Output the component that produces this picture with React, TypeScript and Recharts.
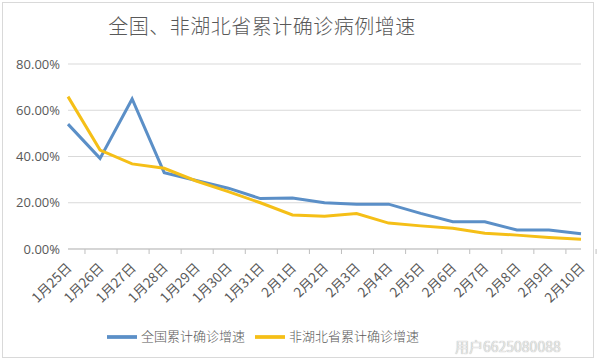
import { LineChart, Line, XAxis, YAxis, CartesianGrid, Legend } from 'recharts';

const dates = [
  '1月25日', '1月26日', '1月27日', '1月28日', '1月29日', '1月30日', '1月31日', '2月1日', '2月2日',
  '2月3日', '2月4日', '2月5日', '2月6日', '2月7日', '2月8日', '2月9日', '2月10日',
];
// 全国累计确诊增速 (%)
const national = [54.0, 39.2, 64.9, 33.0, 29.6, 26.3, 21.8, 22.0, 20.0, 19.4, 19.4, 15.4, 11.8, 11.8, 8.2, 8.2, 6.6];
// 非湖北省累计确诊增速 (%)
const nonHubei = [65.9, 42.8, 36.8, 34.9, 29.4, 24.8, 20.0, 14.7, 14.2, 15.3, 11.2, 10.0, 9.0, 6.8, 6.0, 5.0, 4.2];
const yTicks = [0, 20, 40, 60, 80];

const data = dates.map((d, i) => ({ date: d, national: national[i], nonHubei: nonHubei[i] }));

const BAND = (581 - 68) / dates.length;

const XTick = ({ x, y, payload, index }: any) => {
  const last = index === dates.length - 1;
  const tx = x + 2;
  const ty = y + 9;
  return (
    <g>
      <line x1={x - BAND / 2} y1={y - 8} x2={x - BAND / 2} y2={y - 3} stroke="#bfbfbf" />
      {last && <line x1={x + BAND / 2} y1={y - 8} x2={x + BAND / 2} y2={y - 3} stroke="#bfbfbf" />}
      <text
        x={tx}
        y={ty}
        textAnchor="end"
        transform={`rotate(-45, ${tx}, ${ty})`}
        fontSize={13.5}
        fill="#595959"
        fontFamily="'Noto Sans CJK SC', sans-serif"
        dominantBaseline="middle"
      >
        {payload.value}
      </text>
    </g>
  );
};

const App = () => {
  return (
    <div
      style={{
        position: 'absolute',
        left: 0,
        top: 0,
        width: 600,
        height: 361,
        background: '#fff',
        fontFamily: "'Noto Sans CJK SC', sans-serif",
      }}
    >
      <div
        style={{
          position: 'absolute',
          left: 2,
          top: 2,
          width: 592,
          height: 356,
          border: '1px solid #d9d9d9',
          boxSizing: 'border-box',
        }}
      />
      <div
        style={{
          position: 'absolute',
          top: 11,
          left: 0,
          width: 524,
          textAlign: 'center',
          fontSize: 20,
          fontWeight: 300,
          color: '#595959',
          letterSpacing: 0.5,
        }}
      >
        全国、非湖北省累计确诊病例增速
      </div>
      <LineChart width={600} height={361} data={data} margin={{ top: 64, right: 19, left: 8, bottom: 22 }}>
        <CartesianGrid vertical={false} stroke="#d9d9d9" />
        <XAxis
          dataKey="date"
          interval={0}
          height={60}
          axisLine={{ stroke: '#bfbfbf' }}
          tickLine={false}
          tick={<XTick />}
        />
        <YAxis
          width={60}
          domain={[0, 80]}
          ticks={yTicks}
          axisLine={false}
          tickLine={false}
          tickFormatter={(v: number) => `${v.toFixed(2)}%`}
          tick={{ fontSize: 13, fill: '#595959', fontFamily: "'Open Sans', sans-serif" }}
        />
        <Legend
          verticalAlign="bottom"
          iconType="plainline"
          iconSize={30}
          wrapperStyle={{ position: 'absolute', top: 322, left: 6, width: 524, bottom: 'auto', fontSize: 13 }}
          formatter={(v: string) => <span style={{ color: '#595959', fontWeight: 300 }}>{v}</span>}
        />
        <Line
          name="全国累计确诊增速"
          dataKey="national"
          stroke="#5b8fc7"
          strokeWidth={3}
          dot={false}
          isAnimationActive={false}
        />
        <Line
          name="非湖北省累计确诊增速"
          dataKey="nonHubei"
          stroke="#f5bf17"
          strokeWidth={3}
          dot={false}
          isAnimationActive={false}
        />
      </LineChart>
      <div
        style={{
          position: 'absolute',
          left: 455,
          top: 336,
          fontSize: 14,
          color: '#e8e8e8',
          textShadow: '0 0 1px #999',
        }}
      >
        用户6625080088
      </div>
    </div>
  );
};

export default App;
